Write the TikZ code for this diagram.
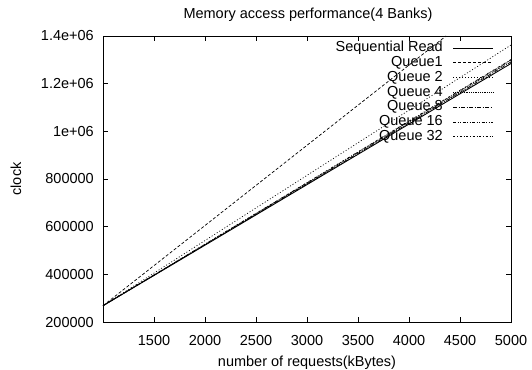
\documentclass[tikz,border=0pt]{standalone}
\usepackage{fontspec}
\setmainfont{Liberation Sans}
\begin{document}
\begin{tikzpicture}[x=1bp,y=-1bp,
  font=\fontsize{14.5bp}{16bp}\selectfont,
  every node/.style={inner sep=0pt},
  frame/.style={line width=0.8bp},
  tick/.style={line width=0.7bp},
  plotline/.style={line width=0.7bp},
  seqline/.style={plotline, line width=0.9bp},
  qone/.style={plotline, dash pattern=on 3bp off 2bp},
  qtwo/.style={plotline, dash pattern=on 1bp off 2bp},
  qfour/.style={plotline, dash pattern=on 0.6bp off 1.2bp},
  qeight/.style={plotline, dash pattern=on 4bp off 1.5bp on 1bp off 1.5bp},
  qsixteen/.style={plotline, dash pattern=on 3bp off 1.5bp on 1bp off 1.5bp on 1bp off 1.5bp},
  qthirtytwo/.style={plotline, dash pattern=on 2bp off 2bp on 0.5bp off 2bp}]
\useasboundingbox (0,0) rectangle (532,369);
% frame
\draw[frame] (103,36) rectangle (511,322);
% x ticks
\foreach \d in {1500,2000,2500,3000,3500,4000,4500,5000} {
  \pgfmathsetmacro\xx{103+(\d-1000)*0.102}
  \draw[tick] (\xx,322) -- ++(0,-5);
  \draw[tick] (\xx,36) -- ++(0,5);
  \node (xl\d) at (\xx,340) {\d};
}
% y ticks
\foreach \i/\lab in {0/200000,1/400000,2/600000,3/800000,4/1e+06,5/1.2e+06,6/1.4e+06} {
  \pgfmathsetmacro\yy{322-\i*47.667}
  \draw[tick] (103,\yy) -- ++(5,0);
  \draw[tick] (511,\yy) -- ++(-5,0);
  \node[anchor=east] (yl\i) at (94,\yy) {\lab};
}
% titles
\node (title) at (308,15) {Memory access performance(4 Banks)};
\node (xlabel) at (307,363) {number of requests(kBytes)};
\node[rotate=90] (ylabel) at (16,179) {clock};
% data lines
\coordinate (o) at (103,305.7);
\draw[seqline] (o) -- (511,63.5);
\draw[qone] (o) -- (446,36);
\draw[qtwo] (o) -- (511,45);
\draw[qfour] (o) -- (511,61);
\draw[qeight] (o) -- (511,62);
\draw[qsixteen] (o) -- (511,60);
\draw[qthirtytwo] (o) -- (511,59.5);
% legend
\foreach \n/\t/\s [count=\k from 0] in {seq/Sequential Read/seqline, q1/Queue1/qone, q2/Queue 2/qtwo, q4/Queue 4/qfour, q8/Queue 8/qeight, q16/Queue 16/qsixteen, q32/Queue 32/qthirtytwo} {
  \pgfmathsetmacro\ly{48+\k*14.8}
  \node[anchor=east] (leg\n) at (443,\ly) {\t};
  \draw[\s] (453,\ly) -- (493,\ly);
}
\end{tikzpicture}
\end{document}
